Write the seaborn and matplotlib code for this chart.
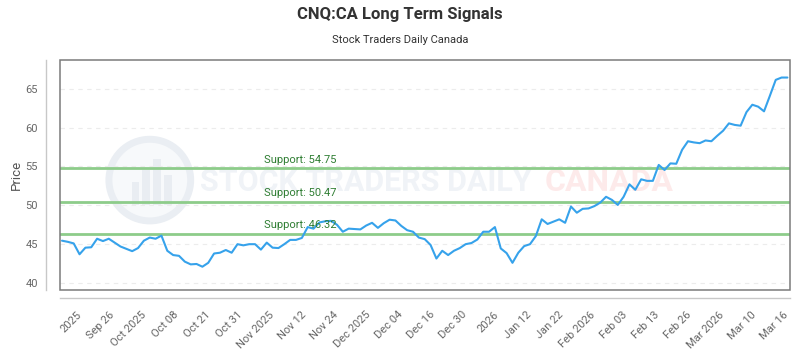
import numpy as np
import pandas as pd
import seaborn as sns
import matplotlib.pyplot as plt
from matplotlib.patches import Rectangle, Ellipse
import matplotlib.transforms as mtransforms

# closing prices, one per trading day
price = [45.45, 45.3, 45.1, 43.7, 44.55, 44.6, 45.7, 45.4, 45.7, 45.2,
         44.7, 44.4, 44.1, 44.5, 45.45, 45.85, 45.7, 46.1, 44.15, 43.6,
         43.5, 42.75, 42.4, 42.45, 42.1, 42.6, 43.8, 43.9, 44.25, 43.9,
         45.0, 44.85, 45.0, 45.0, 44.3, 45.2, 44.55, 44.5, 45.0, 45.55,
         45.55, 45.8, 47.2, 47.0, 47.8, 47.95, 48.0, 47.5, 46.6, 47.0,
         46.95, 46.9, 47.4, 47.75, 47.1, 47.7, 48.15, 48.05, 47.35, 46.8,
         46.6, 45.85, 45.65, 44.9, 43.15, 44.15, 43.6, 44.15, 44.5, 45.0,
         45.15, 45.6, 46.6, 46.6, 47.2, 44.45, 43.85, 42.6, 43.9, 44.75,
         45.0, 46.05, 48.2, 47.6, 47.9, 48.2, 47.75, 49.85, 49.05, 49.55,
         49.6, 49.9, 50.35, 51.1, 50.7, 50.05, 51.1, 52.7, 52.0, 53.35,
         53.15, 53.15, 55.2, 54.55, 55.4, 55.35, 57.15, 58.25, 58.1, 58.0,
         58.35, 58.25, 58.95, 59.6, 60.55, 60.35, 60.25, 62.0, 62.95, 62.7,
         62.1, 64.1, 66.15, 66.45, 66.45]

support_levels = [54.75, 50.47, 46.32]

tick_labels = ['2025', 'Sep 26', 'Oct 2025', 'Oct 08', 'Oct 21', 'Oct 31',
               'Nov 2025', 'Nov 12', 'Nov 24', 'Dec 2025', 'Dec 04', 'Dec 16',
               'Dec 30', '2026', 'Jan 12', 'Jan 22', 'Feb 2026', 'Feb 03',
               'Feb 13', 'Feb 26', 'Mar 2026', 'Mar 10', 'Mar 16']

df = pd.DataFrame({'day': np.arange(len(price)), 'price': price})

sns.set_style('white')
plt.rcParams['font.family'] = ['Roboto', 'DejaVu Sans']

fig = plt.figure(figsize=(8, 3.5), dpi=100)
ax = fig.add_axes([0.075, 0.1714, 0.9125, 0.657])

# offset axis lines first (moving a spine resets the ticks)
for side in ['top', 'right']:
    ax.spines[side].set_visible(False)
ax.spines['left'].set_position(('outward', 10))
ax.spines['bottom'].set_position(('outward', 6))
for side in ['left', 'bottom']:
    ax.spines[side].set_color('#c8c8c8')
    ax.spines[side].set_linewidth(1)

# faint watermark: round logo + site name
ax.add_patch(Ellipse((0.123, 0.478), 0.112, 0.355, transform=ax.transAxes,
                     facecolor='#f7f9fb', edgecolor='#eaeef3', linewidth=5,
                     zorder=0))
for bx, bh in [(0.098, 0.10), (0.113, 0.15), (0.128, 0.20), (0.143, 0.13)]:
    ax.add_patch(Rectangle((bx, 0.37), 0.01, bh, transform=ax.transAxes,
                           facecolor='#e9edf2', edgecolor='none', zorder=0))
ax.text(0.192, 0.47, 'STOCK TRADERS DAILY', transform=ax.transAxes,
        fontsize=22, fontweight='bold', color='#f0f3f7', va='center',
        ha='left', zorder=0)
ax.text(0.664, 0.47, 'CANADA', transform=ax.transAxes, fontsize=23,
        fontweight='bold', color='#fdeaea', va='center', ha='left', zorder=0)

sns.lineplot(data=df, x='day', y='price', ax=ax, color='#36a2eb',
             linewidth=1.5, zorder=3)

blend = mtransforms.blended_transform_factory(ax.transAxes, ax.transData)
for lvl in support_levels:
    ax.axhline(lvl, color='#8dcc8a', linewidth=2, zorder=2)
    ax.text(0.279, lvl + 0.5, f'Support: {lvl:.2f}', transform=blend,
            color='#2e7d32', fontsize=8, ha='left', va='bottom', zorder=4)

ax.set_xlim(-0.34, len(price) - 1 + 0.44)
ax.set_ylim(39.1, 68.7)
ax.set_yticks([40, 45, 50, 55, 60, 65])
ax.yaxis.grid(True, color='#ececec', linestyle=(0, (4, 4)), linewidth=0.8)
ax.set_axisbelow(True)

ax.tick_params(axis='both', length=0, labelsize=8, labelcolor='#666666')
ax.tick_params(axis='y', pad=6)
ax.tick_params(axis='x', pad=8, labelrotation=45)
ax.set_xticks(np.linspace(2.5, 123.2, len(tick_labels)))
ax.set_xticklabels(tick_labels)
plt.setp(ax.get_xticklabels(), ha='right', rotation_mode='anchor')

ax.set_xlabel('')
ax.set_ylabel('Price', fontsize=9.5, color='#555555', labelpad=2)

# chart box
ax.add_patch(Rectangle((0, 0), 1, 1, transform=ax.transAxes, fill=False,
                       edgecolor='#7a7a7a', linewidth=1.1, clip_on=False,
                       zorder=5))

fig.text(0.5, 1 - 15 / 350, 'CNQ:CA Long Term Signals', ha='center',
         va='center', fontsize=12, fontweight='bold', color='#333333')
fig.text(0.5, 1 - 40 / 350, 'Stock Traders Daily Canada', ha='center',
         va='center', fontsize=8, color='#333333')

fig.savefig('out.png', dpi=100)
